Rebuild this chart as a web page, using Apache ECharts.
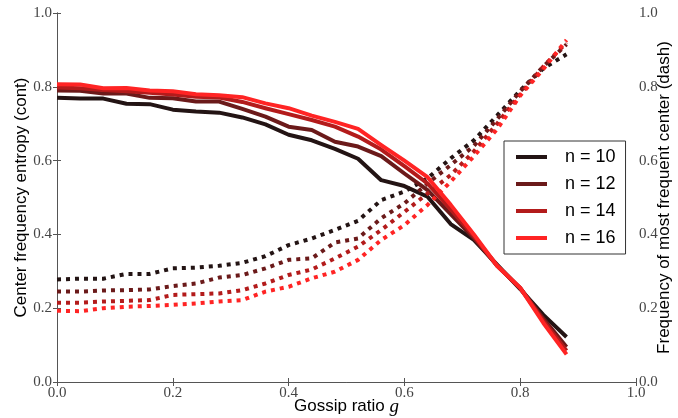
<!DOCTYPE html>
<html>
<head>
<meta charset="utf-8">
<script src="https://cdn.jsdelivr.net/npm/echarts@6/dist/echarts.min.js"></script>
<style>
html,body{margin:0;padding:0;background:#fff;}
#chart{width:678px;height:418px;}
</style>
</head>
<body>
<div id="chart"></div>
<script>
var gossip = [0.00, 0.04, 0.08, 0.12, 0.16, 0.20, 0.24, 0.28, 0.32, 0.36, 0.40, 0.44, 0.48, 0.52, 0.56, 0.60, 0.64, 0.68, 0.72, 0.76, 0.80, 0.84, 0.88];
var seriesNames = ['n = 10', 'n = 12', 'n = 14', 'n = 16'];
var tickValues = [0.0, 0.2, 0.4, 0.6, 0.8, 1.0];

var entropy10 = [0.770, 0.768, 0.768, 0.754, 0.753, 0.738, 0.733, 0.730, 0.717, 0.698, 0.670, 0.655, 0.632, 0.605, 0.547, 0.531, 0.502, 0.428, 0.385, 0.318, 0.252, 0.182, 0.122];
var entropy12 = [0.790, 0.789, 0.782, 0.782, 0.770, 0.769, 0.760, 0.760, 0.740, 0.719, 0.692, 0.683, 0.651, 0.638, 0.612, 0.565, 0.520, 0.455, 0.390, 0.316, 0.254, 0.172, 0.095];
var entropy14 = [0.798, 0.796, 0.791, 0.788, 0.784, 0.779, 0.773, 0.771, 0.759, 0.742, 0.726, 0.710, 0.692, 0.665, 0.630, 0.585, 0.538, 0.468, 0.395, 0.315, 0.255, 0.166, 0.085];
var entropy16 = [0.807, 0.806, 0.796, 0.797, 0.790, 0.788, 0.780, 0.777, 0.772, 0.755, 0.742, 0.722, 0.705, 0.686, 0.642, 0.600, 0.555, 0.480, 0.400, 0.315, 0.255, 0.160, 0.075];

var freq10 = [0.278, 0.280, 0.280, 0.293, 0.293, 0.308, 0.310, 0.315, 0.323, 0.341, 0.371, 0.389, 0.412, 0.437, 0.493, 0.516, 0.552, 0.606, 0.655, 0.722, 0.790, 0.850, 0.888];
var freq12 = [0.245, 0.245, 0.248, 0.249, 0.251, 0.260, 0.267, 0.283, 0.290, 0.308, 0.331, 0.335, 0.378, 0.389, 0.444, 0.484, 0.538, 0.588, 0.640, 0.712, 0.788, 0.855, 0.915];
var freq14 = [0.215, 0.215, 0.218, 0.220, 0.222, 0.236, 0.238, 0.240, 0.249, 0.267, 0.290, 0.305, 0.335, 0.367, 0.412, 0.461, 0.511, 0.561, 0.625, 0.700, 0.780, 0.855, 0.920];
var freq16 = [0.193, 0.192, 0.200, 0.204, 0.206, 0.209, 0.213, 0.218, 0.222, 0.245, 0.258, 0.281, 0.299, 0.331, 0.385, 0.425, 0.480, 0.543, 0.612, 0.685, 0.776, 0.848, 0.927];

var colors = ['#231414', '#6b1a1a', '#b31b1b', '#ff2424'];
var entropy = [entropy10, entropy12, entropy14, entropy16];
var freq = [freq10, freq12, freq14, freq16];

function pairs(ys) {
  return gossip.map(function (g, i) { return [g, ys[i]]; });
}

var series = [];
for (var k = 0; k < 4; k++) {
  series.push({
    name: seriesNames[k], type: 'line', xAxisIndex: 0, yAxisIndex: 0,
    data: pairs(entropy[k]), showSymbol: false, symbol: 'none',
    lineStyle: { color: colors[k], width: 4, join: 'round' },
    itemStyle: { color: colors[k] }, animation: false, silent: true
  });
  series.push({
    name: seriesNames[k] + ' (dash)', type: 'line', xAxisIndex: 0, yAxisIndex: 1,
    data: pairs(freq[k]), showSymbol: false, symbol: 'none',
    lineStyle: { color: colors[k], width: 4, type: [4, 5], cap: 'butt' },
    itemStyle: { color: colors[k] }, animation: false, silent: true
  });
}

var axisColor = '#555';
var tickFont = { fontFamily: 'Liberation Serif', fontSize: 15, color: '#444' };
function fmt(v) { return v.toFixed(1); }

var chart = echarts.init(document.getElementById('chart'));
chart.setOption({
  backgroundColor: '#fff',
  animation: false,
  grid: { left: 57, right: 42, top: 13, bottom: 36, containLabel: false, outerBoundsMode: 'none' },
  legend: {
    data: seriesNames.map(function (n, i) { return { name: n, itemStyle: { color: colors[i] } }; }),
    orient: 'vertical', left: 504, top: 141,
    icon: 'rect', itemWidth: 31, itemHeight: 4, itemGap: 9,
    padding: [7, 10, 7, 12],
    borderColor: '#333', borderWidth: 1, backgroundColor: '#fff',
    textStyle: { fontFamily: 'Liberation Sans', fontSize: 18, color: '#000', padding: [0, 0, 0, 13] },
    selectedMode: false
  },
  xAxis: [
    {
      type: 'value', position: 'bottom', min: 0, max: 1, interval: 0.2,
      name: '{a|Gossip ratio }{b|g}', nameLocation: 'middle', nameGap: 15, nameMoveOverlap: false,
      nameTextStyle: {
        rich: {
          a: { fontFamily: 'Liberation Sans', fontSize: 17, color: '#000' },
          b: { fontFamily: 'Liberation Serif', fontStyle: 'italic', fontSize: 19, color: '#000' }
        }
      },
      axisLine: { show: true, lineStyle: { color: axisColor, width: 1 } },
      axisTick: { show: true, inside: true, length: 4, lineStyle: { color: axisColor } },
      axisLabel: Object.assign({ margin: 4, formatter: fmt }, tickFont),
      splitLine: { show: false }
    },
    {
      type: 'value', position: 'top', min: 0, max: 1, interval: 0.2,
      axisLine: { show: true, lineStyle: { color: axisColor, width: 1 } },
      axisTick: { show: true, inside: true, length: 4, lineStyle: { color: axisColor } },
      axisLabel: { show: false },
      splitLine: { show: false }
    }
  ],
  yAxis: [
    {
      type: 'value', position: 'left', min: 0, max: 1, interval: 0.2,
      name: 'Center frequency entropy (cont)', nameLocation: 'middle', nameGap: 27, nameMoveOverlap: false,
      nameTextStyle: { fontFamily: 'Liberation Sans', fontSize: 17, color: '#000' },
      axisLine: { show: true, lineStyle: { color: axisColor, width: 1 } },
      axisTick: { show: true, inside: true, length: 4, lineStyle: { color: axisColor } },
      axisLabel: Object.assign({ margin: 5, formatter: fmt }, tickFont),
      splitLine: { show: false }
    },
    {
      type: 'value', position: 'right', min: 0, max: 1, interval: 0.2,
      name: 'Frequency of most frequent center (dash)', nameLocation: 'middle', nameGap: 20, nameMoveOverlap: false,
      nameTextStyle: { fontFamily: 'Liberation Sans', fontSize: 17, color: '#000' },
      axisLine: { show: true, lineStyle: { color: axisColor, width: 1 } },
      axisTick: { show: true, inside: true, length: 4, lineStyle: { color: axisColor } },
      axisLabel: Object.assign({ margin: 3, formatter: fmt }, tickFont),
      splitLine: { show: false }
    }
  ],
  series: series
});
</script>
</body>
</html>
